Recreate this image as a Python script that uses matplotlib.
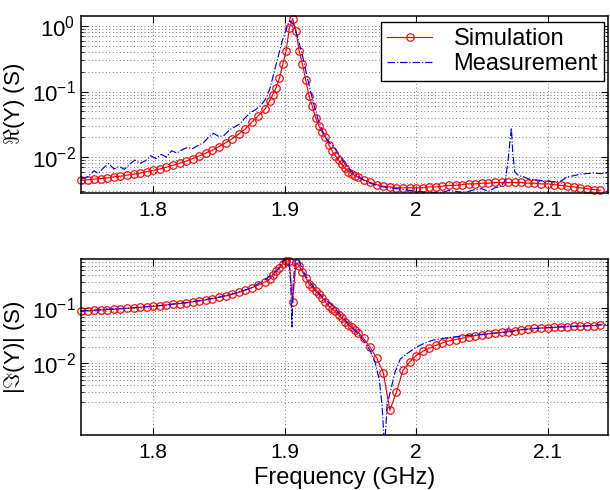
import numpy as np
import matplotlib
matplotlib.use('Agg')
import matplotlib.pyplot as plt
from matplotlib.ticker import FixedLocator, NullFormatter, FixedFormatter

plt.rcParams['font.family'] = ['Liberation Sans', 'DejaVu Sans']
plt.rcParams['mathtext.fontset'] = 'custom'
plt.rcParams['mathtext.rm'] = 'Liberation Sans'
plt.rcParams['mathtext.it'] = 'Liberation Sans:italic'
plt.rcParams['mathtext.bf'] = 'Liberation Sans:bold'

# ---------------- data ----------------
f_sim = np.round(np.concatenate([np.arange(1.745, 1.8851, 0.005),
                                 np.arange(1.8885, 1.9561, 0.0025),
                                 np.arange(1.960, 2.1401, 0.005)]), 4)

re_sim = [0.0044, 0.0045, 0.0046, 0.0047, 0.0048, 0.0050, 0.0051, 0.0053, 0.0055, 0.0057,
          0.0060, 0.0063, 0.0066, 0.0070, 0.0075, 0.0080, 0.0087, 0.0095, 0.0104, 0.0115,
          0.0128, 0.0145, 0.0165, 0.019, 0.0225, 0.027, 0.034, 0.043, 0.054,
          0.072, 0.090, 0.115, 0.16, 0.26, 0.41, 0.92, 1.30, 0.85, 0.42,
          0.26, 0.15, 0.085, 0.060, 0.040, 0.030, 0.024, 0.020, 0.0155, 0.0125,
          0.0105, 0.0090, 0.0078, 0.0067, 0.0060, 0.0056, 0.0052, 0.0049,
          0.0045, 0.0041, 0.0038, 0.0036, 0.0035, 0.0034, 0.0034, 0.0034, 0.0034, 0.0034,
          0.0035, 0.0035, 0.0036, 0.0037, 0.0037, 0.0038, 0.0039, 0.0039, 0.0040, 0.0040,
          0.0041, 0.0041, 0.0041, 0.0041, 0.0041, 0.0040, 0.0040, 0.0039, 0.0039, 0.0038,
          0.0037, 0.0036, 0.0035, 0.0034, 0.0033, 0.0032, 0.0031]

im_sim = [0.089, 0.090, 0.092, 0.093, 0.095, 0.096, 0.098, 0.100, 0.102, 0.104,
          0.107, 0.109, 0.112, 0.115, 0.119, 0.122, 0.126, 0.131, 0.136, 0.142,
          0.150, 0.158, 0.168, 0.180, 0.195, 0.213, 0.236, 0.265, 0.300,
          0.34, 0.40, 0.47, 0.55, 0.65, 0.71, 0.73, 0.13, 0.67, 0.60,
          0.46, 0.36, 0.28, 0.24, 0.205, 0.18, 0.155, 0.13, 0.11, 0.098,
          0.088, 0.077, 0.066, 0.057, 0.050, 0.045, 0.041, 0.036,
          0.0285, 0.0195, 0.0125, 0.0068, 0.0014, 0.0030, 0.0075, 0.0105, 0.0138, 0.0165,
          0.0188, 0.0212, 0.0235, 0.0255, 0.0270, 0.0285, 0.0305, 0.0320, 0.0332, 0.0343,
          0.0355, 0.0365, 0.0375, 0.0395, 0.0410, 0.0420, 0.0430, 0.0437, 0.0443, 0.0450,
          0.0456, 0.0462, 0.0468, 0.0473, 0.0478, 0.0485, 0.0495]

f_meas_re = [1.745, 1.750, 1.755, 1.758, 1.762, 1.766, 1.770, 1.774, 1.778, 1.782,
             1.786, 1.790, 1.794, 1.798, 1.802, 1.806, 1.810, 1.814, 1.818, 1.822,
             1.826, 1.830, 1.834, 1.838, 1.842, 1.846, 1.850, 1.854, 1.858, 1.862,
             1.866, 1.870, 1.874, 1.878, 1.882, 1.886, 1.889, 1.892, 1.895, 1.898,
             1.901, 1.9035, 1.906, 1.908, 1.911, 1.914, 1.917, 1.920, 1.923, 1.926,
             1.930, 1.934, 1.938, 1.942, 1.946, 1.950, 1.955, 1.960, 1.965, 1.970,
             1.975, 1.980, 1.985, 1.990, 1.995, 2.000, 2.010, 2.020, 2.025, 2.030,
             2.035, 2.040, 2.045, 2.050, 2.055, 2.060, 2.065, 2.068, 2.070, 2.0715,
             2.0725, 2.0735, 2.075, 2.078, 2.082, 2.086, 2.090, 2.095, 2.100, 2.105,
             2.110, 2.115, 2.120, 2.125, 2.130, 2.135, 2.140, 2.147]
re_meas = [0.0046, 0.0050, 0.0062, 0.0056, 0.0068, 0.0080, 0.0066, 0.0072, 0.0065, 0.0078,
           0.0090, 0.0080, 0.0088, 0.0105, 0.0095, 0.0110, 0.0100, 0.0125, 0.0115, 0.0130,
           0.0140, 0.0135, 0.0150, 0.0165, 0.0200, 0.0230, 0.0205, 0.0215, 0.0260, 0.0290,
           0.0320, 0.0400, 0.0480, 0.0530, 0.0620, 0.0800, 0.115, 0.20, 0.34, 0.58,
           0.87, 1.20, 1.10, 0.90, 0.55, 0.32, 0.17, 0.095, 0.055, 0.034,
           0.022, 0.0165, 0.0140, 0.0105, 0.0078, 0.0062, 0.0052, 0.0045, 0.0040, 0.0037,
           0.0035, 0.0034, 0.0033, 0.0032, 0.0031, 0.0030, 0.0029, 0.0029, 0.0031, 0.0030,
           0.0029, 0.0030, 0.0032, 0.0033, 0.0030, 0.0034, 0.0036, 0.0045, 0.0090, 0.0180,
           0.0280, 0.0120, 0.0060, 0.0052, 0.0050, 0.0046, 0.0045, 0.0044, 0.0043, 0.0042,
           0.0043, 0.0050, 0.0052, 0.0055, 0.0056, 0.0057, 0.0056, 0.0057]

f_meas_im = [1.745, 1.760, 1.765, 1.770, 1.780, 1.790, 1.800, 1.810, 1.820, 1.825,
             1.830, 1.840, 1.850, 1.860, 1.870, 1.875, 1.880, 1.885, 1.890, 1.895,
             1.8985, 1.901, 1.903, 1.9045, 1.9055, 1.9065, 1.908, 1.910, 1.912, 1.915,
             1.918, 1.921, 1.925, 1.930, 1.935, 1.940, 1.945, 1.950, 1.955, 1.960,
             1.965, 1.969, 1.972, 1.974, 1.976, 1.978, 1.981, 1.984, 1.988, 1.993,
             2.000, 2.005, 2.013, 2.025, 2.040, 2.055, 2.065, 2.069, 2.0705, 2.072,
             2.075, 2.080, 2.090, 2.100, 2.110, 2.120, 2.130, 2.140, 2.147]
im_meas = [0.090, 0.094, 0.096, 0.098, 0.100, 0.105, 0.110, 0.115, 0.124, 0.126,
           0.133, 0.145, 0.160, 0.182, 0.215, 0.24, 0.28, 0.33, 0.40, 0.52,
           0.70, 0.80, 0.80, 0.30, 0.046, 0.30, 0.72, 0.85, 0.62, 0.43,
           0.33, 0.26, 0.20, 0.15, 0.12, 0.090, 0.065, 0.048, 0.036, 0.026,
           0.017, 0.010, 0.005, 0.0018, 0.0003, 0.0018, 0.0035, 0.0070, 0.0120, 0.0150,
           0.0195, 0.0225, 0.0265, 0.0295, 0.0322, 0.0345, 0.0362, 0.0370, 0.0460, 0.0370,
           0.0390, 0.0410, 0.0430, 0.0445, 0.0460, 0.0470, 0.0480, 0.0500, 0.0505]

x_ticks = [1.8, 1.9, 2.0, 2.1]
x_ticklabels = ['1.8', '1.9', '2', '2.1']
top_yticks = [1e-2, 1e-1, 1e0]
top_yticklabels = [r'$10^{-2}$', r'$10^{-1}$', r'$10^{0}$']
bot_yticks = [1e-2, 1e-1]
bot_yticklabels = [r'$10^{-2}$', r'$10^{-1}$']

# ---------------- figure ----------------
fig = plt.figure(figsize=(6.1, 4.9), dpi=100)
ax1 = fig.add_axes([0.1328, 0.6067, 0.8639, 0.3606])
ax2 = fig.add_axes([0.1328, 0.1122, 0.8639, 0.3586])

minor_vals = [k * 10.0 ** e for e in (-3, -2, -1, 0) for k in range(2, 10)]
grid_kw = dict(color='0.3', linestyle=(0, (1, 3.2)), linewidth=0.6)

def style(ax, yticks, yticklabels, ylim):
    ax.set_yscale('log')
    ax.set_xlim(1.745, 2.146)
    ax.set_ylim(*ylim)
    ax.xaxis.set_major_locator(FixedLocator(x_ticks))
    ax.xaxis.set_major_formatter(FixedFormatter(x_ticklabels))
    ax.yaxis.set_major_locator(FixedLocator(yticks))
    ax.yaxis.set_major_formatter(FixedFormatter(yticklabels))
    ax.yaxis.set_minor_locator(FixedLocator([v for v in minor_vals if ylim[0] <= v <= ylim[1] and v >= 2e-3]))
    ax.yaxis.set_minor_formatter(NullFormatter())
    ax.tick_params(which='both', direction='in', top=True, right=True)
    ax.tick_params(axis='x', labelsize=15, pad=6)
    ax.tick_params(axis='y', labelsize=16, pad=4)
    ax.tick_params(which='major', length=5, width=0.8)
    ax.tick_params(which='minor', length=2.5, width=0.6)
    ax.grid(True, which='major', axis='both', **grid_kw)
    ax.grid(True, which='minor', axis='y', **grid_kw)
    ax.set_axisbelow(True)
    for s in ax.spines.values():
        s.set_linewidth(1.1)

sim_kw = dict(color='red', marker='o', markerfacecolor='none', markeredgecolor='red',
              markersize=5.4, markeredgewidth=0.85, linewidth=0.85, clip_on=False)
meas_kw = dict(color='blue', linestyle='-.', linewidth=0.85)

ax1.plot(f_sim, re_sim, label='Simulation', **sim_kw)
ax1.plot(f_meas_re, re_meas, label='Measurement', **meas_kw)
style(ax1, top_yticks, top_yticklabels, (0.00286, 1.42))
ax1.set_ylabel(r'$\Re$(Y) (S)', fontsize=16, labelpad=3)
leg = ax1.legend(loc='upper right', bbox_to_anchor=(0.992, 0.966), borderaxespad=0,
                 fancybox=False, framealpha=1, edgecolor='black', fontsize=17,
                 handlelength=1.9, handletextpad=0.9, borderpad=0.25, labelspacing=0.15)
leg.get_frame().set_linewidth(1.0)

ax2.plot(f_sim, im_sim, **sim_kw)
ax2.plot(f_meas_im, im_meas, **meas_kw)
style(ax2, bot_yticks, bot_yticklabels, (4.97e-4, 0.778))
ax2.set_ylabel(r'|$\Im$(Y)| (S)', fontsize=16, labelpad=3)
ax2.set_xlabel('Frequency (GHz)', fontsize=17, labelpad=3)

fig.savefig('out.png', dpi=100)
